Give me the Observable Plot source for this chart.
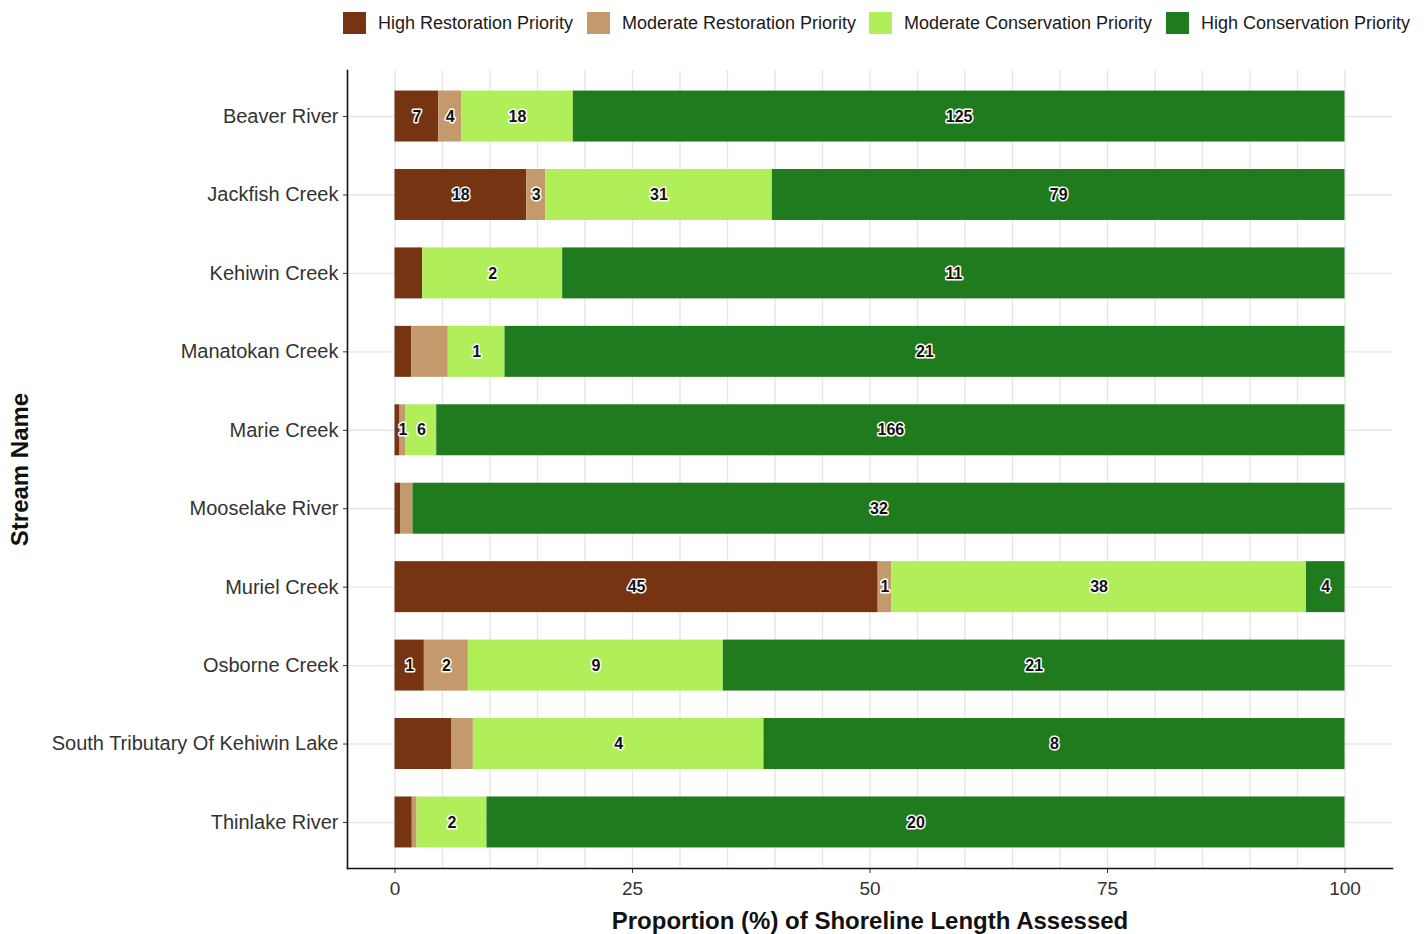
<!DOCTYPE html>
<html>
<head>
<meta charset="utf-8">
<script src="https://cdn.jsdelivr.net/npm/d3@7"></script>
<script src="https://cdn.jsdelivr.net/npm/@observablehq/plot@0.6"></script>
<style>
  html, body { margin: 0; padding: 0; background: #fff; }
  body { width: 1428px; height: 934px; overflow: hidden; font-family: "Liberation Sans", Arial, Helvetica, sans-serif; }
  #legend { position: relative; width: 1428px; height: 46px; }
  .item { position: absolute; top: 12px; height: 22px; display: flex; align-items: center; font-size: 18px; color: #1a1a1a; white-space: nowrap; }
  .sw { width: 23px; height: 22px; margin-right: 12px; }
  #chart svg { display: block; }
</style>
</head>
<body>
<div id="legend"></div>
<div id="chart"></div>
<script>
const streams = [
  "Beaver River", "Jackfish Creek", "Kehiwin Creek", "Manatokan Creek", "Marie Creek",
  "Mooselake River", "Muriel Creek", "Osborne Creek", "South Tributary Of Kehiwin Lake", "Thinlake River"
];
const categories = [
  "High Restoration Priority", "Moderate Restoration Priority",
  "Moderate Conservation Priority", "High Conservation Priority"
];
const colors = ["#763413", "#c49a6c", "#b0ef59", "#207b1f"];

// Proportion (%) of shoreline length, per category, in stream order
const highRestorationPct   = [4.60, 13.86, 2.91, 1.75, 0.53, 0.63, 50.86, 3.09, 6.00, 1.82];
const modRestorationPct    = [2.42, 2.00, 0.00, 3.86, 0.63, 1.26, 1.43, 4.63, 2.25, 0.50];
const modConservationPct   = [11.75, 23.86, 14.74, 5.97, 3.23, 0.00, 43.65, 26.84, 30.59, 7.36];
const highConservationPct  = [81.23, 60.28, 82.35, 88.42, 95.61, 98.11, 4.06, 65.44, 61.16, 90.32];

// Segment-count labels shown in the bars (null = no label)
const highRestorationN  = [7, 18, null, null, null, null, 45, 1, null, null];
const modRestorationN   = [4, 3, null, null, 1, null, 1, 2, null, null];
const modConservationN  = [18, 31, 2, 1, 6, null, 38, 9, 4, 2];
const highConservationN = [125, 79, 11, 21, 166, 32, 4, 21, 8, 20];

const xTicks = [0, 25, 50, 75, 100];
const gridBreaks = [0, 5, 10, 15, 20, 25, 30, 35, 40, 45, 50, 55, 60, 65, 70, 75, 80, 85, 90, 95, 100];

const pcts = [highRestorationPct, modRestorationPct, modConservationPct, highConservationPct];
const counts = [highRestorationN, modRestorationN, modConservationN, highConservationN];
const data = [];
streams.forEach((s, i) => {
  categories.forEach((c, j) => {
    data.push({stream: s, cat: c, pct: pcts[j][i], n: counts[j][i] == null ? null : String(counts[j][i])});
  });
});

// Legend
const legendX = [343, 587, 869, 1166];
const legend = document.getElementById("legend");
categories.forEach((c, j) => {
  const it = document.createElement("div");
  it.className = "item";
  it.style.left = legendX[j] + "px";
  const sw = document.createElement("div");
  sw.className = "sw";
  sw.style.background = colors[j];
  const tx = document.createElement("span");
  tx.textContent = c;
  it.appendChild(sw); it.appendChild(tx);
  legend.appendChild(it);
});

const font = '"Liberation Sans", Arial, Helvetica, sans-serif';
const chart = Plot.plot({
  width: 1428,
  height: 888,
  marginTop: 24,
  marginBottom: 66,
  marginLeft: 347,
  marginRight: 36,
  style: {fontFamily: font, fontSize: "19px", color: "#333", background: "white"},
  x: {domain: [-5, 105]},
  y: {domain: streams, paddingInner: 0.35, paddingOuter: 0.262, round: false},
  color: {domain: categories, range: colors},
  marks: [
    Plot.gridX({ticks: gridBreaks, stroke: "#e6e6e6", strokeOpacity: 1, strokeWidth: 1.4}),
    Plot.gridY({stroke: "#e6e6e6", strokeOpacity: 1, strokeWidth: 1.4}),
    Plot.barX(data, Plot.stackX({x: "pct", y: "stream", fill: "cat", order: categories})),
    Plot.text(data, Plot.stackX({
      x: "pct", y: "stream", z: "cat", text: "n", order: categories,
      fill: "#111", stroke: "white", strokeWidth: 3, fontWeight: "bold", fontSize: 16
    })),
    Plot.axisX({ticks: xTicks, tickSize: 5, tickPadding: 8, label: null, fontSize: 19, tickFormat: d => String(d)}),
    Plot.axisY({tickSize: 4, tickPadding: 5, label: null, fontSize: 20}),
    Plot.frame({anchor: "left", stroke: "#111", strokeWidth: 1.6}),
    Plot.frame({anchor: "bottom", stroke: "#111", strokeWidth: 1.6}),
    Plot.text(["Stream Name"], {
      text: d => d, frameAnchor: "left", dx: -327, rotate: -90, textAnchor: "middle",
      fontWeight: "bold", fontSize: 24, fill: "#111"
    }),
    Plot.text(["Proportion (%) of Shoreline Length Assessed"], {
      text: d => d, frameAnchor: "bottom", dy: 60,
      fontWeight: "bold", fontSize: 24, fill: "#111"
    })
  ]
});
document.getElementById("chart").appendChild(chart);
</script>
</body>
</html>
